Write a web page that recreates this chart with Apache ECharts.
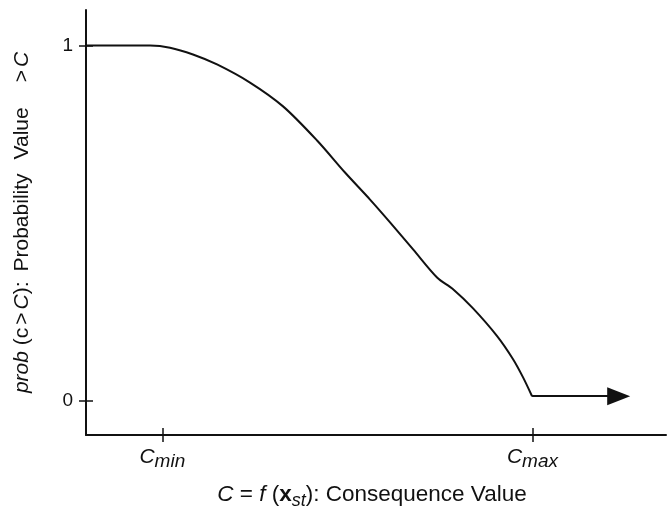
<!DOCTYPE html>
<html>
<head>
<meta charset="utf-8">
<script src="https://cdn.jsdelivr.net/npm/echarts@6/dist/echarts.min.js"></script>
<style>
  html, body { margin: 0; padding: 0; background: #fff; }
  #chart { width: 669px; height: 529px; }
</style>
</head>
<body>
<div id="chart"></div>
<script>
// Exceedance curve: probability that the consequence c exceeds C
const consequence = [0, 0.839, 1.101, 1.402, 1.717, 2.149, 2.582, 3.028, 3.394, 3.722, 3.984, 4.286, 4.600, 4.810, 5.072, 5.387, 5.596, 5.727, 5.845];
const probExceed  = [1.0, 1.0, 0.994, 0.975, 0.947, 0.896, 0.829, 0.733, 0.643, 0.567, 0.503, 0.427, 0.348, 0.315, 0.261, 0.183, 0.118, 0.067, 0.014];

// Tail beyond C_max, ending in an arrow
const tailStart = [5.845, 0.014];
const tailEnd = [6.98, 0.014];

// Marked positions on each axis
const xTicks = [1, 5.85];
const xTickNames = ['min', 'max'];
const yTicks = [0, 1];
const yTickLabels = ['0', '1'];

const xRange = [0, 7.6];
const yRange = [-0.095, 1.1];

const ink = '#111';
const font = '"Liberation Sans", Arial, Helvetica, sans-serif';

const chart = echarts.init(document.getElementById('chart'), null, { renderer: 'canvas' });

const curve = consequence.map((c, i) => [c, probExceed[i]]);

// Each axis is drawn twice (outside + inside ticks) so the ticks cross the axis line
function xAxisBase(inside) {
  return {
    type: 'value', min: xRange[0], max: xRange[1], position: 'bottom', offset: 0,
    splitLine: { show: false },
    axisLine: { show: !inside, onZero: false, lineStyle: { color: ink, width: 2 } },
    axisTick: { show: true, inside: inside, length: 7, customValues: xTicks, lineStyle: { color: ink, width: 1.5 } },
    axisLabel: { show: false }
  };
}
function yAxisBase(inside) {
  return {
    type: 'value', min: yRange[0], max: yRange[1], position: 'left', offset: 0,
    splitLine: { show: false },
    axisLine: { show: !inside, onZero: false, lineStyle: { color: ink, width: 2 } },
    axisTick: { show: true, inside: inside, length: 7, customValues: yTicks, lineStyle: { color: ink, width: 1.5 } },
    axisLabel: { show: false }
  };
}

const xMain = xAxisBase(false);
xMain.axisLabel = {
  show: true, margin: 11, customValues: xTicks,
  formatter: function (v) {
    const i = xTicks.indexOf(v);
    return '{c|C}{s|' + xTickNames[i] + '}';
  },
  rich: {
    c: { fontFamily: font, fontStyle: 'italic', fontSize: 21, color: ink, lineHeight: 22 },
    s: { fontFamily: font, fontStyle: 'italic', fontSize: 19, color: ink, padding: [10, 0, 0, 0], lineHeight: 22 }
  }
};
xMain.name = '{i|C}{n| = }{i|f}{n| (}{b|x}{s|st}{n|): Consequence Value}';
xMain.nameLocation = 'middle';
xMain.nameGap = 47;
xMain.nameTextStyle = {
  padding: [0, 8, 0, 0],
  rich: {
    i: { fontFamily: font, fontStyle: 'italic', fontSize: 22.5, color: ink, lineHeight: 26 },
    n: { fontFamily: font, fontSize: 22.5, color: ink, lineHeight: 26 },
    b: { fontFamily: font, fontWeight: 'bold', fontSize: 22.5, color: ink, lineHeight: 26 },
    s: { fontFamily: font, fontStyle: 'italic', fontSize: 18, color: ink, padding: [11, 0, 0, 0], lineHeight: 26 }
  }
};

const yMain = yAxisBase(false);
yMain.axisLabel = {
  show: true, margin: 13, customValues: yTicks,
  formatter: function (v) { return yTickLabels[yTicks.indexOf(v)]; },
  fontFamily: font, fontSize: 19, color: ink
};
yMain.name = '{i|prob}{n| (c}{g|>}{i|C}{n|):}{w|Probability}{v|Value}{g|>}{i|C}';
yMain.nameLocation = 'middle';
yMain.nameGap = 53;
yMain.nameRotate = 90;
yMain.nameTextStyle = {
  rich: {
    i: { fontFamily: font, fontStyle: 'italic', fontSize: 21, color: ink },
    n: { fontFamily: font, fontSize: 21, color: ink },
    g: { fontFamily: font, fontSize: 21, color: ink, padding: [0, 3, 0, 3] },
    w: { fontFamily: font, fontSize: 21, color: ink, padding: [0, 0, 0, 10] },
    v: { fontFamily: font, fontSize: 21, color: ink, padding: [0, 22, 0, 14] }
  }
};

const option = {
  backgroundColor: '#fff',
  animation: false,
  grid: { left: 86, right: 3, top: 10, bottom: 94 },
  xAxis: [xMain, xAxisBase(true)],
  yAxis: [yMain, yAxisBase(true)],
  series: [
    {
      type: 'line',
      data: curve,
      showSymbol: false,
      symbol: 'none',
      smooth: 0.3,
      lineStyle: { color: ink, width: 2 },
      markLine: {
        silent: true,
        symbol: ['none', 'triangle'],
        symbolSize: [18, 23],
        label: { show: false },
        lineStyle: { color: ink, width: 2, type: 'solid' },
        data: [[{ coord: tailStart }, { coord: tailEnd }]]
      }
    }
  ]
};

chart.setOption(option);
</script>
</body>
</html>
